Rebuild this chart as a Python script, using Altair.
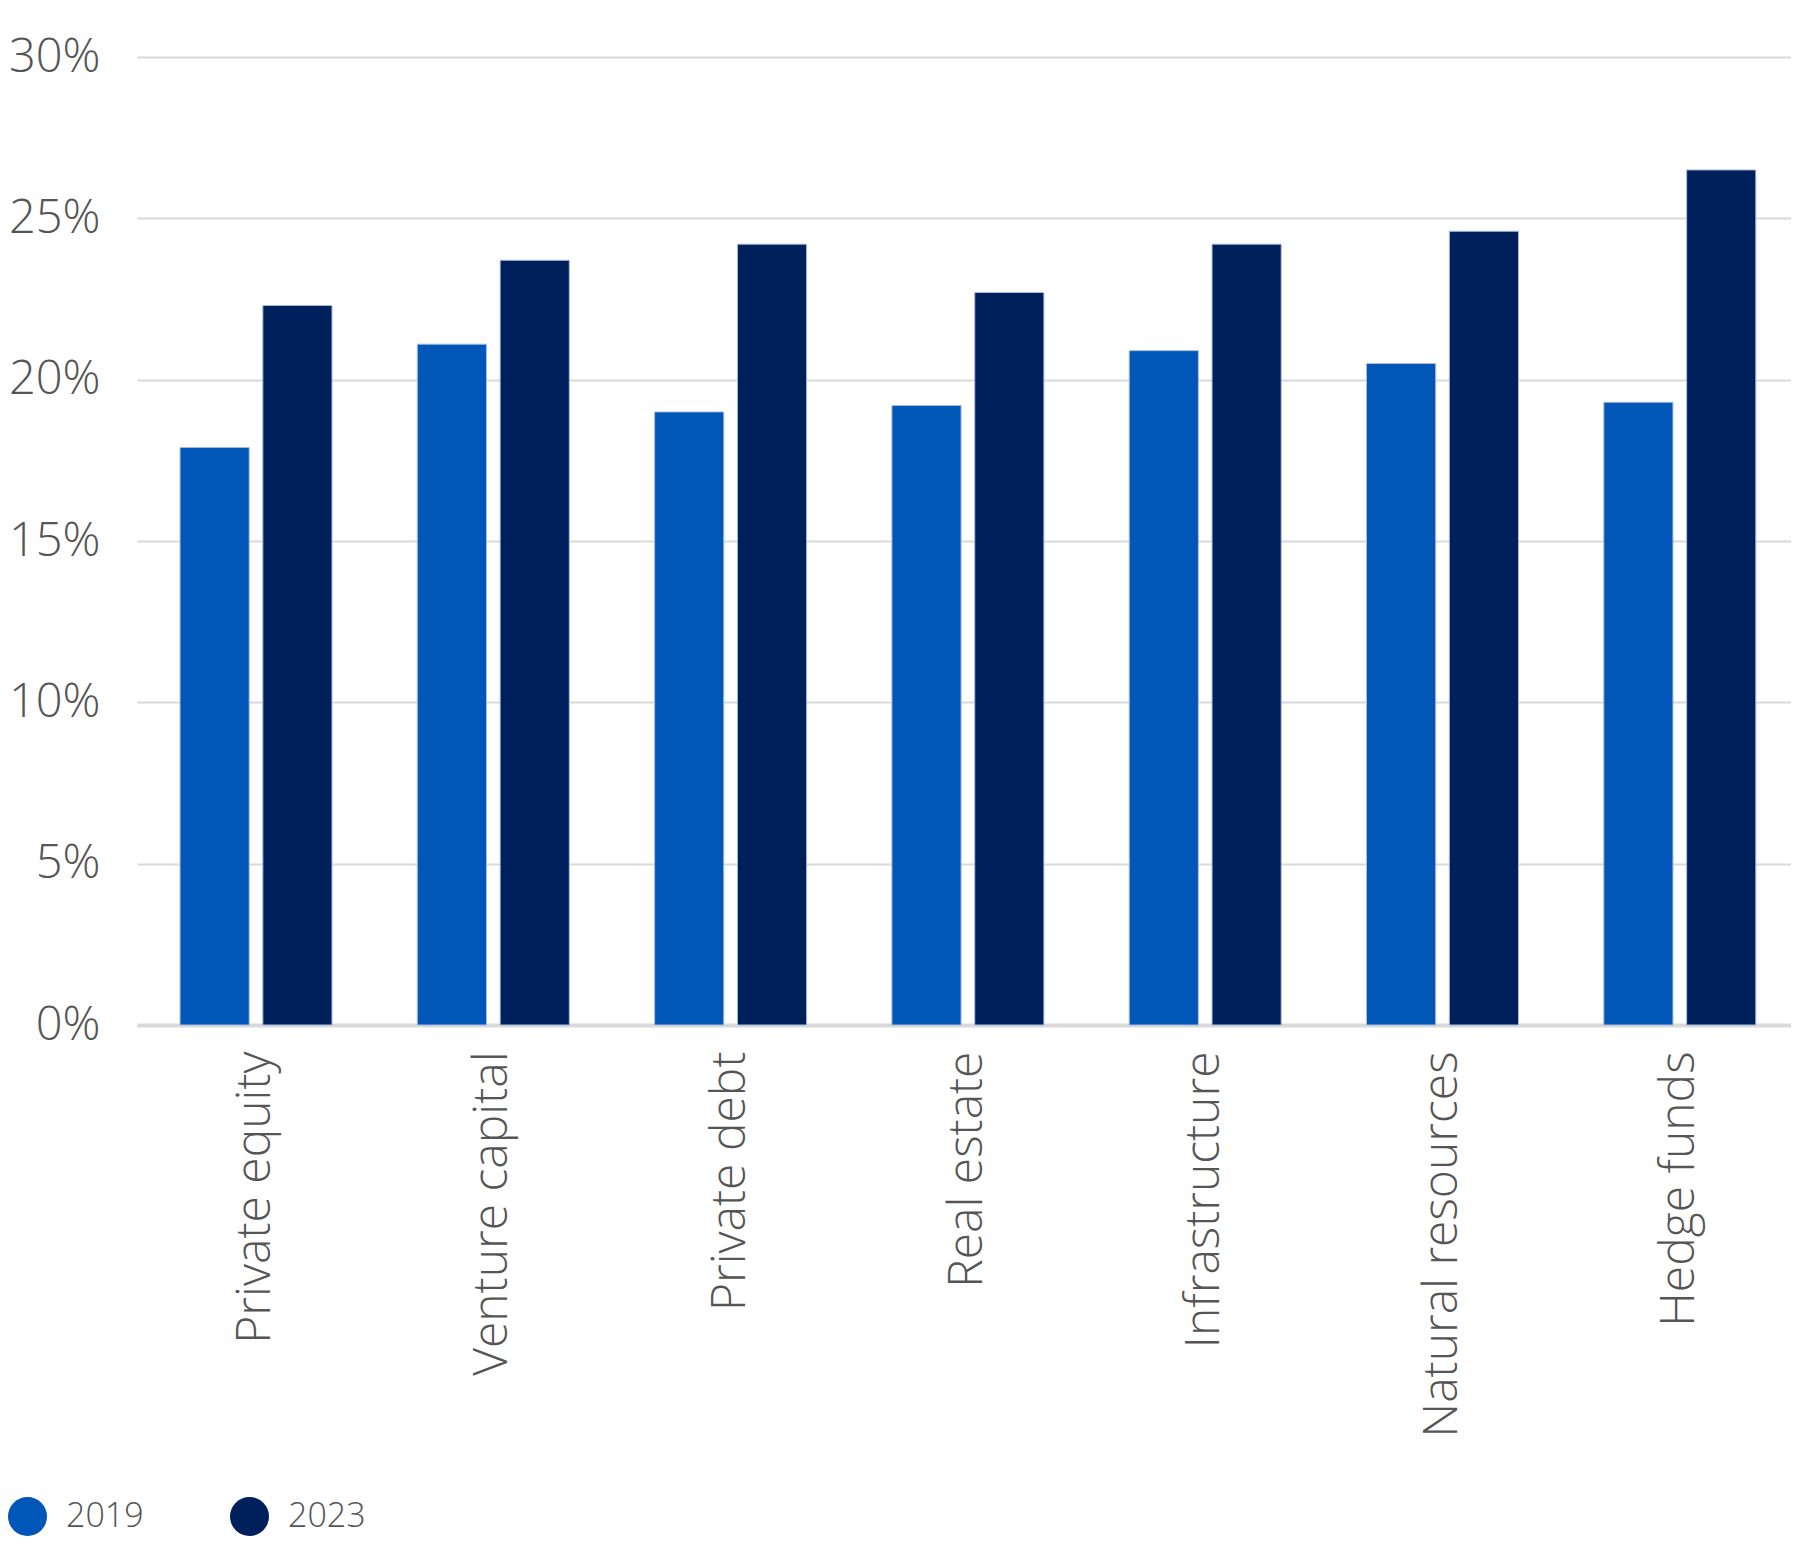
import altair as alt
import pandas as pd

categories = ["Private equity", "Venture capital", "Private debt", "Real estate",
              "Infrastructure", "Natural resources", "Hedge funds"]
v2019 = [17.9, 21.1, 19.0, 19.2, 20.9, 20.5, 19.3]
v2023 = [22.3, 23.7, 24.2, 22.7, 24.2, 24.6, 26.5]
years = ["2019", "2023"]
colors = ["#0057B8", "#00205B"]

rows = []
for c, a, b in zip(categories, v2019, v2023):
    rows.append({"cat": c, "year": "2019", "value": a / 100})
    rows.append({"cat": c, "year": "2023", "value": b / 100})
df = pd.DataFrame(rows)

FONT = "Open Sans"

chart = alt.Chart(df).mark_bar(stroke="#aabbdd", strokeWidth=1).encode(
    x=alt.X("cat:N", sort=categories, title=None,
            scale=alt.Scale(paddingInner=0.3595, paddingOuter=0.1648, align=0.55),
            axis=alt.Axis(labelAngle=-90, labelAlign="right", labelBaseline="middle",
                          labelPadding=26, ticks=False, domain=True, grid=False,
                          domainColor="#d9d9d9", domainWidth=4,
                          labelFont=FONT, labelFontSize=48, labelFontWeight=300,
                          labelColor="#555555", labelLimit=1000)),
    xOffset=alt.XOffset("year:N", sort=years,
                        scale=alt.Scale(paddingInner=0.165)),
    y=alt.Y("value:Q", title=None,
            scale=alt.Scale(domain=[0, 0.30], nice=False),
            axis=alt.Axis(format=".0%", values=[0, 0.05, 0.10, 0.15, 0.20, 0.25, 0.30],
                          ticks=False, domain=False, grid=True,
                          gridColor="#d9d9d9", gridWidth=2,
                          labelPadding=37, labelFont=FONT, labelFontSize=47,
                          labelFontWeight=300, labelColor="#555555")),
    color=alt.Color("year:N", sort=years,
                    scale=alt.Scale(domain=years, range=colors),
                    legend=alt.Legend(title=None, orient="none", direction="horizontal",
                                      legendX=-129, legendY=1440,
                                      symbolType="circle", symbolSize=1521,
                                      symbolStrokeWidth=0, symbolOpacity=1,
                                      labelFont=FONT, labelFontSize=34,
                                      labelFontWeight=300, labelColor="#555555",
                                      labelOffset=19, columnPadding=86)),
).properties(
    width=1654, height=968, background="white",
    padding={"top": 25, "left": 0, "right": 0, "bottom": 0},
).configure_view(stroke=None, strokeWidth=0)

chart.save("out.html", embed_options={"renderer": "svg", "actions": False})
